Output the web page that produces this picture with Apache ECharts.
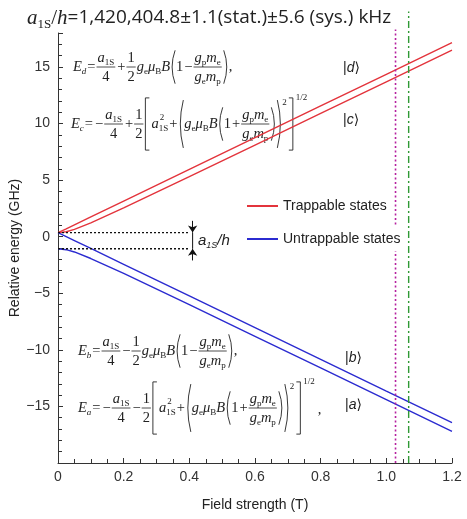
<!DOCTYPE html>
<html>
<head>
<meta charset="utf-8">
<script src="https://cdn.jsdelivr.net/npm/echarts@6/dist/echarts.min.js"></script>
<style>
  html, body { margin: 0; padding: 0; background: #fff; }
  #chart { width: 467px; height: 519px; }
</style>
</head>
<body>
<div id="chart"></div>
<script>
// field strength (T) and state energies (GHz)
var fieldB = [0, 0.025, 0.05, 0.1, 0.2, 0.4, 0.6, 0.8, 1.0, 1.2];
var energyD = [0.36, 0.70, 1.05, 1.75, 3.15, 5.95, 8.75, 11.55, 14.35, 17.14];
var energyC = [0.36, 0.44, 0.64, 1.22, 2.54, 5.30, 8.09, 10.89, 13.69, 16.49];
var energyB = [0.36, 0.01, -0.34, -1.04, -2.44, -5.24, -8.04, -10.84, -13.64, -16.43];
var energyA = [-1.07, -1.15, -1.35, -1.93, -3.25, -6.01, -8.80, -11.60, -14.40, -17.20];

// hyperfine splitting marker
var splitLevels = [0.36, -1.07];
var splitEnd = 0.4;
var arrowB = 0.41;
var arrowTails = [1.4, -2.1];

// vertical field markers (dotted magenta, dash-dot green)
var fieldMarks = [1.028, 1.068];
var fieldMarkTops = [18.3, 19.9];

function pairs(xs, ys) {
    return xs.map(function (x, i) { return [x, ys[i]]; });
}

// ---- tiny formula typesetter for the annotations ----
var cv = document.createElement('canvas').getContext('2d');
var SERIF = '"Liberation Serif", "DejaVu Serif", serif';
var SANS = '"Liberation Sans", "DejaVu Sans", sans-serif';
var INK = '#222';

function fnt(it, size, fam) { return (it ? 'italic ' : '') + size + 'px ' + fam; }
function tw(s, it, size, fam) { cv.font = fnt(it, size, fam); return cv.measureText(s).width; }
function txt(s, x, y, it, size, fam) {
    return {
        type: 'text', x: x, y: y, z: 1,
        style: { text: s, font: fnt(it, size, fam), fill: INK,
                 textVerticalAlign: 'middle', verticalAlign: 'middle' }
    };
}

function typeset(tokens, x, y, size, fam, out) {
    tokens.forEach(function (tk) {
        var k = tk[0];
        if (k === 'g') {
            x += tk[1];
        } else if (k === 'r' || k === 'i') {
            if (out) out.push(txt(tk[1], x, y, k === 'i', size, fam));
            x += tw(tk[1], k === 'i', size, fam);
        } else if (k === 'sub' || k === 'sup') {
            var s2 = Math.round(size * 0.62);
            var dy = tk[3] != null ? tk[3] * size : (k === 'sub' ? size * 0.32 : -size * 0.45);
            if (out) out.push(txt(tk[1], x, y + dy, !!tk[2], s2, fam));
            x += tw(tk[1], !!tk[2], s2, fam);
        } else if (k === 'subsup') {
            var s3 = Math.round(size * 0.62);
            if (out) {
                out.push(txt(tk[1], x, y + size * 0.32, false, s3, fam));
                out.push(txt(tk[2], x + 1, y - size * 0.45, false, s3, fam));
            }
            x += Math.max(tw(tk[1], false, s3, fam), tw(tk[2], false, s3, fam));
        } else if (k === 'frac') {
            var wn = typeset(tk[1], 0, 0, size, fam, null);
            var wd = typeset(tk[2], 0, 0, size, fam, null);
            var W = Math.max(wn, wd) + 2;
            if (out) {
                typeset(tk[1], x + (W - wn) / 2, y - size * 0.64, size, fam, out);
                typeset(tk[2], x + (W - wd) / 2, y + size * 0.72, size, fam, out);
                out.push({ type: 'line', z: 1, shape: { x1: x, y1: y, x2: x + W, y2: y },
                           style: { stroke: INK, lineWidth: 0.8 } });
            }
            x += W + 1;
        } else if (k === '(' || k === ')') {
            var h = size * (tk[1] || 1.15);
            if (out) {
                var e = k === '(' ? x + 5 : x + 1, m = k === '(' ? x - 1 : x + 7;
                out.push({ type: 'bezierCurve', z: 1,
                           shape: { x1: e, y1: y - h, x2: e, y2: y + h, cpx1: m, cpy1: y },
                           style: { stroke: INK, lineWidth: 0.9, fill: null } });
            }
            x += 6;
        } else if (k === '[' || k === ']') {
            var hb = size * (tk[1] || 1.8);
            if (out) {
                var a = k === '[' ? x + 5 : x, b = k === '[' ? x + 1 : x + 4;
                out.push({ type: 'polyline', z: 1,
                           shape: { points: [[a, y - hb], [b, y - hb], [b, y + hb], [a, y + hb]] },
                           style: { stroke: INK, lineWidth: 0.9, fill: null } });
            }
            x += 7;
        }
    });
    return x;
}

var a1S = [['i', 'a'], ['sub', '1S']];
var quarter = ['frac', a1S, [['r', '4']]];
var half = ['frac', [['r', '1']], [['r', '2']]];
var geMuB = [['i', 'g'], ['sub', 'e'], ['i', 'μ'], ['sub', 'B'], ['i', 'B']];
var massRatio = ['frac', [['i', 'g'], ['sub', 'p'], ['i', 'm'], ['sub', 'e']],
                         [['i', 'g'], ['sub', 'e'], ['i', 'm'], ['sub', 'p']]];

function linearEq(label, sign) {
    return [['i', 'E'], ['sub', label, true], ['g', 1], ['r', '='], ['g', 1], quarter,
            ['g', 1], ['r', sign], ['g', 1], half]
        .concat(geMuB, [['('], ['r', '1'], ['g', 1], ['r', '−'], ['g', 1], massRatio, [')'], ['r', ',']]);
}
function rootEq(label, sign) {
    return [['i', 'E'], ['sub', label, true], ['g', 1], ['r', '='], ['g', 2], ['r', '−'], ['g', 1], quarter,
            ['g', 1], ['r', sign], ['g', 1], half,
            ['['], ['i', 'a'], ['subsup', '1S', '2'], ['g', 1], ['r', '+'], ['g', 1], ['(', 1.65]]
        .concat(geMuB, [['('], ['r', '1'], ['g', 1], ['r', '+'], ['g', 1], massRatio, [')'],
                        [')', 1.65], ['sup', '2', false, -1.45], ['g', 2],
                        [']'], ['sup', '1/2', false, -1.85]]);
}

var EQ = 14.5;
var ann = [];
typeset(linearEq('d', '+'), 73, 67, EQ, SERIF, ann);
typeset(rootEq('c', '+'), 71, 124, EQ, SERIF, ann);
typeset(linearEq('b', '−'), 78, 351, EQ, SERIF, ann);
var xe = typeset(rootEq('a', '−'), 78, 408, EQ, SERIF, ann);
ann.push(txt(',', xe + 3, 410, false, EQ, SERIF));

// header
var hx = typeset([['i', 'a'], ['sub', '1S', false, 0.3], ['r', '/'], ['i', 'h']], 27, 18, 21, SERIF, ann);
typeset([['r', '=1,420,404.8±1.1(stat.)±5.6 (sys.) kHz']], hx, 18, 19, '"Open Sans", sans-serif', ann);

// splitting label and state kets
typeset([['i', 'a'], ['sub', '1S', true], ['i', '/h']], 198, 241, 15, SANS, ann);
[['d', 343, 68], ['c', 343, 120], ['b', 345, 358], ['a', 345, 405]].forEach(function (s) {
    typeset([['r', '|'], ['i', s[0]], ['r', '⟩']], s[1], s[2], 14, SANS, ann);
});

var RED = '#e3343c';
var BLUE = '#2b2bd0';

function stateSeries(name, color, ys) {
    return {
        type: 'line', name: name, color: color, data: pairs(fieldB, ys),
        showSymbol: false, symbol: 'none', z: 3,
        lineStyle: { color: color, width: 1.4 }
    };
}
function plainLine(data, color, type, width, clip) {
    return {
        type: 'line', data: data, showSymbol: false, symbol: 'none', silent: true,
        clip: clip, z: 3, lineStyle: { color: color, width: width, type: type }
    };
}

var series = [
    stateSeries('Trappable states', RED, energyD),
    stateSeries('Trappable states', RED, energyC),
    stateSeries('Untrappable states', BLUE, energyB),
    stateSeries('Untrappable states', BLUE, energyA)
];
splitLevels.forEach(function (lv) {
    series.push(plainLine([[0, lv], [splitEnd, lv]], '#111', [2, 2], 1.4, true));
});
series.push(plainLine([[arrowB, splitLevels[0]], [arrowB, splitLevels[1]]], '#111', 'solid', 1, true));
series.push({
    type: 'lines', coordinateSystem: 'cartesian2d', silent: true, z: 3,
    symbol: ['none', 'arrow'], symbolSize: 7,
    lineStyle: { color: '#111', width: 1, opacity: 1 },
    data: arrowTails.map(function (t, i) {
        return { coords: [[arrowB, t], [arrowB, splitLevels[i]]] };
    })
});
series.push(plainLine([[fieldMarks[0], -20], [fieldMarks[0], fieldMarkTops[0]]], '#b5219f', [2, 2.5], 1.6, false));
series.push(plainLine([[fieldMarks[1], -20], [fieldMarks[1], fieldMarkTops[1]]], '#2f9a35', [7, 3, 2, 3], 1.4, false));

var chart = echarts.init(document.getElementById('chart'), null, { renderer: 'canvas' });

var legendText = { color: '#222', fontSize: 14, fontFamily: SANS };

chart.setOption({
    animation: false,
    backgroundColor: '#fff',
    grid: { left: 58, right: 15, top: 33, bottom: 56, containLabel: false, outerBoundsMode: 'none' },
    legend: [{
        data: ['Trappable states'], left: 242, top: 199, icon: 'rect',
        itemWidth: 31, itemHeight: 2, textStyle: legendText, padding: [0, 5], z: 5
    }, {
        data: ['Untrappable states'], left: 242, top: 227, icon: 'rect',
        itemWidth: 31, itemHeight: 2, textStyle: legendText, padding: [5, 5],
        backgroundColor: '#fff', z: 5
    }],
    xAxis: {
        type: 'value', min: 0, max: 1.2, interval: 0.2,
        name: 'Field strength (T)', nameLocation: 'middle', nameGap: 35, nameMoveOverlap: false,
        nameTextStyle: { color: '#222', fontSize: 14, fontFamily: SANS },
        axisLine: { onZero: false, lineStyle: { color: '#333', width: 1 } },
        axisTick: { inside: true, length: 5, lineStyle: { color: '#333' } },
        minorTick: { show: true, splitNumber: 4, length: 4, lineStyle: { color: '#333' } },
        axisLabel: {
            color: '#333', fontSize: 14, fontFamily: SANS, margin: 7,
            formatter: function (v) { return v === 0 ? '0' : v.toFixed(1); }
        },
        splitLine: { show: false }
    },
    yAxis: {
        type: 'value', min: -20, max: 18, interval: 5,
        name: 'Relative energy (GHz)', nameLocation: 'middle', nameGap: 36, nameMoveOverlap: false,
        nameTextStyle: { color: '#222', fontSize: 14, fontFamily: SANS },
        axisLine: { onZero: false, lineStyle: { color: '#333', width: 1 } },
        axisTick: { inside: true, length: 5, lineStyle: { color: '#333' } },
        minorTick: { show: true, splitNumber: 5, length: 4, lineStyle: { color: '#333' } },
        axisLabel: {
            color: '#333', fontSize: 14, fontFamily: SANS, margin: 8,
            showMinLabel: false, showMaxLabel: false,
            formatter: function (v) { return v < 0 ? '−' + (-v) : String(v); }
        },
        splitLine: { show: false }
    },
    graphic: { elements: ann },
    series: series
});
</script>
</body>
</html>
